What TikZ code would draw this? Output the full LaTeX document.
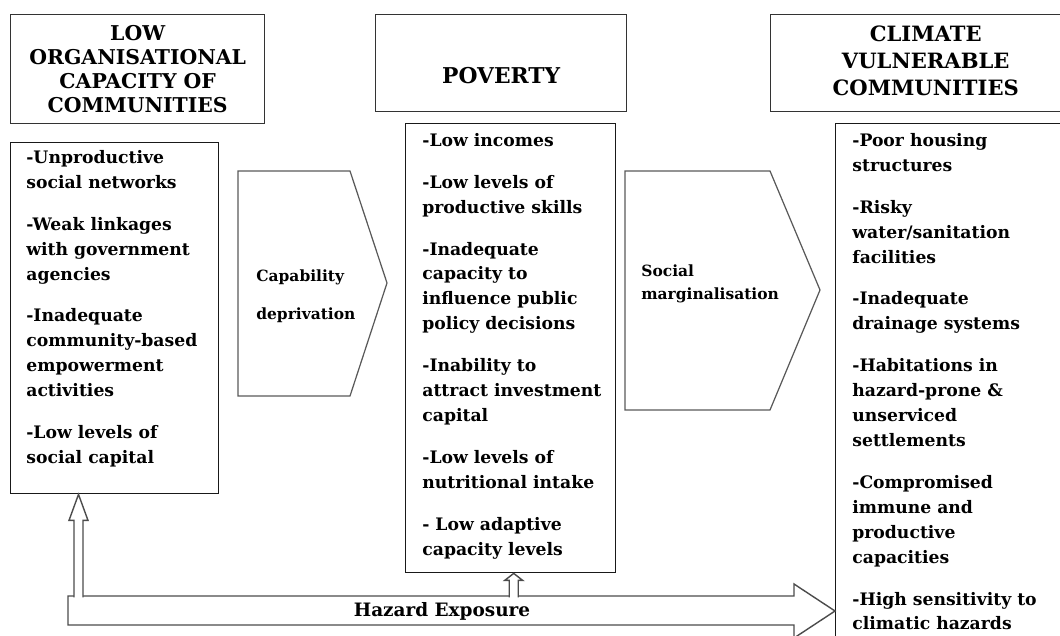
\documentclass[tikz,border=0pt]{standalone}
\usepackage{fontspec}
\setmainfont{DejaVu Serif}
\usetikzlibrary{calc}

\newcommand\pxu{0.02cm}
\newcommand\itemgap{9.6pt}

\tikzset{
  titlebox/.style={draw=black!80,line width=0.8pt,anchor=north west,inner sep=0pt,align=center,
    font=\fontsize{11.6}{13.8}\selectfont\bfseries},
  listbox/.style={draw=black!90,line width=0.8pt,anchor=north west,inner sep=0pt},
  listtext/.style={anchor=north west,align=left,inner sep=0pt,font=\fontsize{9.8}{14.2}\selectfont\bfseries},
  chevron/.style={draw=black!65,line width=0.7pt},
  chevlabel/.style={anchor=west,inner sep=0pt,font=\fontsize{8.8}{10}\selectfont\bfseries},
  blockarrow/.style={draw=black!70,line width=0.8pt,fill=white}
}

\begin{document}
\begin{tikzpicture}[x=\pxu,y=-\pxu]
			\useasboundingbox (0,0) rectangle (1060,635);
			\clip (0,0) rectangle (1060,635);
			% Vulnerability chain
			\node[titlebox,minimum width=254*\pxu,minimum height=109*\pxu] (OrgTitle) at (10,14) {LOW\\ORGANISATIONAL\\CAPACITY OF\\COMMUNITIES};
			\node[titlebox,minimum width=251*\pxu,minimum height=97*\pxu,font=\fontsize{12.4}{13.8}\selectfont\bfseries] (PovTitle) at (375,14) {\mbox{}\\[10pt]POVERTY};
			\node[titlebox,minimum width=310*\pxu,minimum height=97*\pxu,font=\fontsize{12}{15.3}\selectfont\bfseries] (ClimTitle) at (770,14) {CLIMATE\\VULNERABLE\\COMMUNITIES\\[-12pt]\mbox{}};
			
			\node[listbox,minimum width=208*\pxu,minimum height=351*\pxu] (OrgList) at (10,142) {};
			\node[listbox,minimum width=210*\pxu,minimum height=449*\pxu] (PovList) at (405,123) {};
			\node[listbox,minimum width=245*\pxu,minimum height=530*\pxu] (ClimList) at (835,123) {};
			
			\node[listtext] (OrgItems) at ($(OrgList.north west)+(16,8)$) {-Unproductive\\social networks\\[\itemgap]-Weak linkages\\with government\\agencies\\[\itemgap]-Inadequate\\community-based\\empowerment\\activities\\[\itemgap]-Low levels of\\social capital};
			\node[listtext] (PovItems) at ($(PovList.north west)+(17,10)$) {-Low incomes\\[\itemgap]-Low levels of\\productive skills\\[\itemgap]-Inadequate\\capacity to\\influence public\\policy decisions\\[\itemgap]-Inability to\\attract investment\\capital\\[\itemgap]-Low levels of\\nutritional intake\\[\itemgap]- Low adaptive\\capacity levels};
			\node[listtext] (ClimItems) at ($(ClimList.north west)+(17,10)$) {-Poor housing\\structures\\[\itemgap]-Risky\\water/sanitation\\facilities\\[\itemgap]-Inadequate\\drainage systems\\[\itemgap]-Habitations in\\hazard-prone \&\\unserviced\\settlements\\[\itemgap]-Compromised\\immune and\\productive\\capacities\\[\itemgap]-High sensitivity to\\climatic hazards};
			
			\draw[chevron] (238,171) -- (350,171) -- (387,283) -- (350,396) -- (238,396) -- cycle;
			\node[chevlabel] (CapLabel) at (256,277) {Capability};
			\node[chevlabel] (DepLabel) at (256,315) {deprivation};
			\draw[chevron] (625,171) -- (770,171) -- (820,290) -- (770,410) -- (625,410) -- cycle;
			\node[chevlabel] (SocLabel) at (641,271) {Social};
			\node[chevlabel] (MargLabel) at (641,295) {marginalisation};
			
			\coordinate (HazTail) at (68,611);
			\coordinate (HazTip) at (ClimList.west |- HazTail);
			\draw[blockarrow] ($(HazTail)+(0,-15)$) -- ($(HazTip)+(-41,-15)$) -- ($(HazTip)+(-41,-27)$) -- (HazTip)
				-- ($(HazTip)+(-41,27)$) -- ($(HazTip)+(-41,14)$) -- ($(HazTail)+(0,14)$) -- cycle;
			\node[font=\fontsize{10.5}{12}\selectfont\bfseries] (HazLabel) at (442,611) {Hazard Exposure};
			
			\coordinate (OrgTip) at ($(OrgList.south west)+(68.5,0)$);
			\draw[blockarrow] ($(OrgTip)+(-4.5,103)$) -- ($(OrgTip)+(-4.5,26)$) -- ($(OrgTip)+(-9.5,26)$) -- (OrgTip)
				-- ($(OrgTip)+(9.5,26)$) -- ($(OrgTip)+(4.5,26)$) -- ($(OrgTip)+(4.5,103)$);
			\coordinate (PovTip) at ($(PovList.south)+(3,0)$);
			\draw[blockarrow] ($(PovTip)+(-4.5,24)$) -- ($(PovTip)+(-4.5,7)$) -- ($(PovTip)+(-9,7)$) -- (PovTip)
				-- ($(PovTip)+(9,7)$) -- ($(PovTip)+(4.5,7)$) -- ($(PovTip)+(4.5,24)$);
			
\end{tikzpicture}
\end{document}
